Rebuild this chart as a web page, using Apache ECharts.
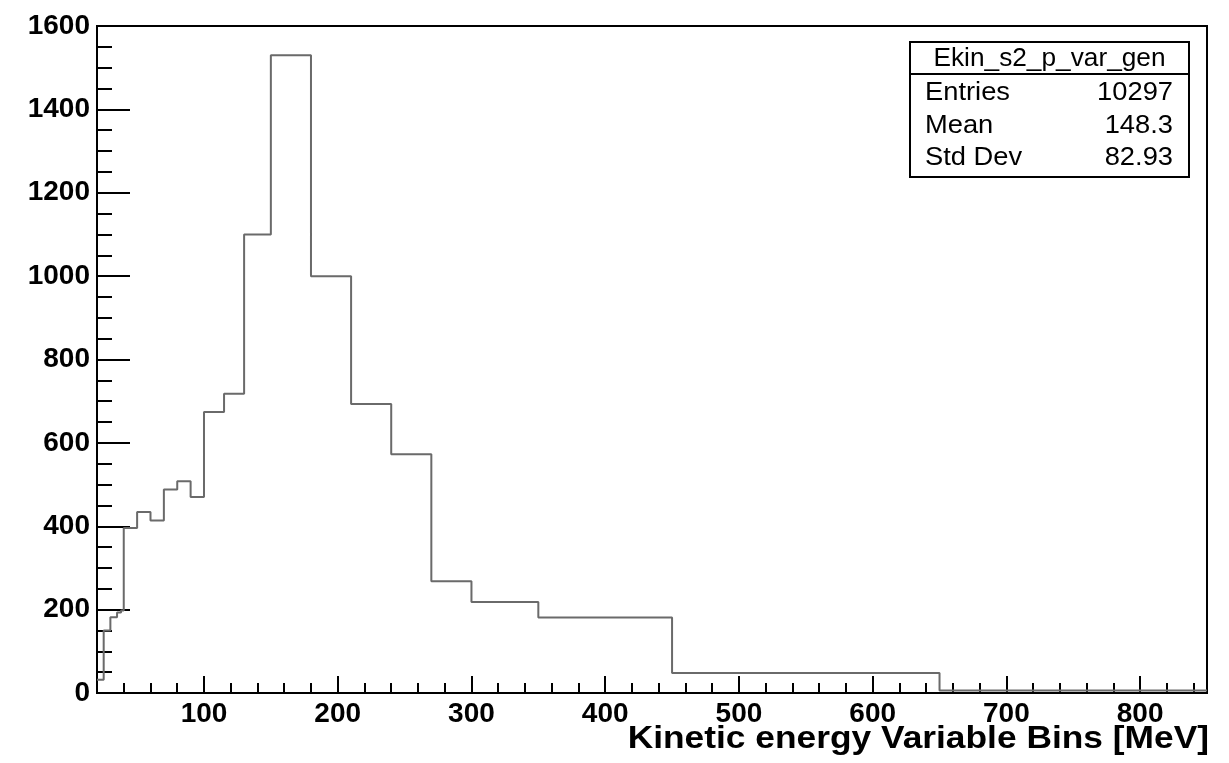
<!DOCTYPE html>
<html>
<head>
<meta charset="utf-8">
<script src="https://cdn.jsdelivr.net/npm/echarts@6/dist/echarts.min.js"></script>
<style>
  html, body { margin: 0; padding: 0; background: #fff; }
  #chart { width: 1229px; height: 763px; }
</style>
</head>
<body>
<div id="chart"></div>
<script>
// Variable-width bins of the kinetic energy spectrum [MeV] and their counts
const binEdges = [20, 25, 30, 35, 38, 40, 50, 60, 70, 80, 90, 100, 115, 130, 150, 180, 210, 240, 270, 300, 350, 450, 650, 850];
const binCounts = [32, 150, 182, 193, 198, 396, 434, 414, 488, 508, 470, 674, 718, 1100, 1530, 1000, 693, 573, 268, 218, 181, 48, 6];

// Axis ranges and labelled ticks
const xRange = [20, 850];
const xMajorTicks = [100, 200, 300, 400, 500, 600, 700, 800];
const yRange = [0, 1600];
const yStep = 200;

// Statistics box contents
const statsTitle = 'Ekin_s2_p_var_gen';
const statsNames = ['Entries', 'Mean', 'Std Dev'];
const statsValues = ['10297', '148.3', '82.93'];
const xTitle = 'Kinetic energy Variable Bins [MeV]';

// Step outline: each bin contributes its left and right corner at its height
const outline = [];
for (let i = 0; i < binCounts.length; i++) {
  outline.push([binEdges[i], binCounts[i]]);
  outline.push([binEdges[i + 1], binCounts[i]]);
}

// Minor ticks every 20 MeV between the labelled ones
const xMinorTicks = [];
for (let v = xRange[0] + 20; v < xRange[1]; v += 20) {
  if (v % 100 !== 0) xMinorTicks.push(v);
}

const FONT = '"Liberation Sans", Arial, Helvetica, sans-serif';
const labelFont = { fontFamily: FONT, fontWeight: 'bold', fontSize: 28, color: '#000' };
const black = { color: '#000', width: 2 };
const plain = v => String(v);

const chart = echarts.init(document.getElementById('chart'), null, { renderer: 'canvas' });

const statsBox = { x: 910, y: 42, w: 279, h: 135, sep: 74 };
const rowY = [93, 126, 158];

const graphics = [
  {
    type: 'rect', z: 100,
    shape: { x: statsBox.x, y: statsBox.y, width: statsBox.w, height: statsBox.h },
    style: { fill: '#fff', stroke: '#000', lineWidth: 2 }
  },
  {
    type: 'line', z: 101,
    shape: { x1: statsBox.x, y1: statsBox.sep, x2: statsBox.x + statsBox.w, y2: statsBox.sep },
    style: { stroke: '#000', lineWidth: 2 }
  },
  {
    type: 'text', z: 101, x: statsBox.x + statsBox.w / 2, y: (statsBox.y + statsBox.sep) / 2 + 1,
    scaleX: 1.05,
    style: { text: statsTitle, font: '25px ' + FONT, fill: '#000', align: 'center', verticalAlign: 'middle' }
  },
  {
    // axis title, right-aligned under the end of the x axis
    type: 'text', z: 101, x: 1209, y: 739, scaleX: 1.14,
    style: { text: xTitle, font: 'bold 31px ' + FONT, fill: '#000', align: 'right', verticalAlign: 'middle' }
  }
];
statsNames.forEach((name, i) => {
  graphics.push({
    type: 'text', z: 101, x: statsBox.x + 15, y: rowY[i], scaleX: 1.05,
    style: { text: name, font: '26px ' + FONT, fill: '#000', align: 'left', verticalAlign: 'middle' }
  });
  graphics.push({
    type: 'text', z: 101, x: statsBox.x + statsBox.w - 16, y: rowY[i], scaleX: 1.05,
    style: { text: statsValues[i], font: '26px ' + FONT, fill: '#000', align: 'right', verticalAlign: 'middle' }
  });
});

chart.setOption({
  animation: false,
  backgroundColor: '#fff',
  grid: {
    left: 97, right: 22, top: 26, bottom: 70,
    show: true, borderColor: '#000', borderWidth: 2, backgroundColor: 'transparent'
  },
  xAxis: [
    {
      type: 'value', min: xRange[0], max: xRange[1], position: 'bottom',
      axisLine: { show: true, onZero: false, lineStyle: black },
      axisTick: { show: true, inside: true, length: 17, lineStyle: black, customValues: xMajorTicks },
      axisLabel: Object.assign({ margin: 7, customValues: xMajorTicks, formatter: plain }, labelFont),
      splitLine: { show: false }
    },
    {
      type: 'value', min: xRange[0], max: xRange[1], position: 'bottom',
      axisLine: { show: false },
      axisTick: { show: true, inside: true, length: 10, lineStyle: black, customValues: xMinorTicks },
      axisLabel: { show: false },
      splitLine: { show: false }
    }
  ],
  yAxis: {
    type: 'value', min: yRange[0], max: yRange[1], interval: yStep,
    axisLine: { show: true, onZero: false, lineStyle: black },
    axisTick: { show: true, inside: true, length: 33, lineStyle: black },
    minorTick: { show: true, splitNumber: 4, length: 15, lineStyle: black },
    axisLabel: Object.assign({ margin: 7, formatter: plain }, labelFont),
    splitLine: { show: false },
    minorSplitLine: { show: false }
  },
  series: [
    {
      type: 'line',
      xAxisIndex: 0,
      data: outline,
      symbol: 'none',
      clip: true,
      lineStyle: { color: '#6a6a6a', width: 2 },
      z: 3
    }
  ],
  graphic: graphics
});
</script>
</body>
</html>
